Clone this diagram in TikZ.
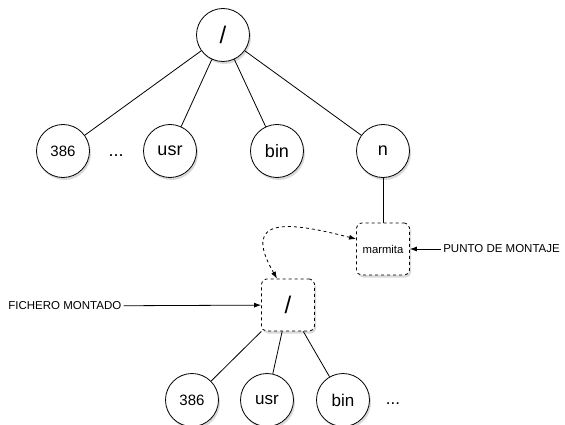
\documentclass[tikz,border=0pt]{standalone}
\usepackage{fontspec}
\setmainfont{Liberation Sans}
\usetikzlibrary{positioning,shadows,arrows.meta}
\tikzset{
  fs dir/.style={circle, draw, fill=white, minimum size=53pt, inner sep=0pt, line width=0.8pt,
    font=\fontsize{18}{18}\selectfont,
    drop shadow={shadow xshift=1.5pt, shadow yshift=-2.5pt, opacity=0.3}},
  fs mount/.style={rectangle, rounded corners=5pt, draw, dashed, fill=white, line width=0.8pt,
    minimum width=53pt, minimum height=52pt, inner sep=0pt,
    drop shadow={shadow xshift=1.5pt, shadow yshift=-2.5pt, opacity=0.3}},
  fs label/.style={font=\fontsize{11.5}{11.5}\selectfont, inner sep=2pt},
  fs arrow/.style={-{Latex[length=7pt,width=5pt]}, line width=0.8pt}
}

\begin{document}
\begin{tikzpicture}[x=1pt, y=-1pt, line width=0.8pt]
    \useasboundingbox (0,0) rectangle (565,425);

    % Main tree
    \node [fs dir, font=\fontsize{24}{24}\selectfont] (root) at (223,35) {/};
    \node [fs dir, font=\fontsize{15}{15}\selectfont] (d386) at (63,151) {386};
    \node [fs dir] (usr) at (170,151) {usr};
    \node [fs dir] (bin) at (277,151) {bin};
    \node [fs dir] (n) at (383,151) {n};
    \node [font=\fontsize{18}{18}\selectfont] (dots) at (116,156) {...};

    % Mount point
    \node [fs mount, font=\fontsize{11.3}{11.3}\selectfont] (marmita) at (383,249) {marmita};

    % Mounted tree
    \node [fs mount, font=\fontsize{24}{24}\selectfont] (mounted) at (288,305) {/};
    \node [fs dir, font=\fontsize{15}{15}\selectfont] (m386) at (192,400) {386};
    \node [fs dir, font=\fontsize{17}{17}\selectfont] (musr) at (267,400) {usr};
    \node [fs dir, font=\fontsize{17}{17}\selectfont] (mbin) at (343,400) {bin};
    \node [font=\fontsize{17}{17}\selectfont] (mdots) at (393,404) {...};

    % Connections
    \draw (root) -- (d386);
    \draw (root) -- (usr);
    \draw (root) -- (bin);
    \draw (root) -- (n);
    \draw (n) -- (marmita);
    \draw (mounted) -- (m386);
    \draw (mounted) -- (musr);
    \draw (mounted) -- (mbin);
    \draw [dashed, {Latex[length=7pt,width=5pt]}-{Latex[length=7pt,width=5pt]}]
      ([xshift=-11pt]mounted.north) .. controls (240,215) and (290,222) .. ([yshift=10pt]marmita.west);

    % Labels
    \node [fs label, right=31pt of marmita] (punto) {PUNTO DE MONTAJE};
    \node [fs label, anchor=west] (fichero) at (6,306) {FICHERO MONTADO};
    \draw [fs arrow] (punto) -- (marmita);
    \draw [fs arrow] (fichero) -- (mounted);
\end{tikzpicture}
\end{document}
